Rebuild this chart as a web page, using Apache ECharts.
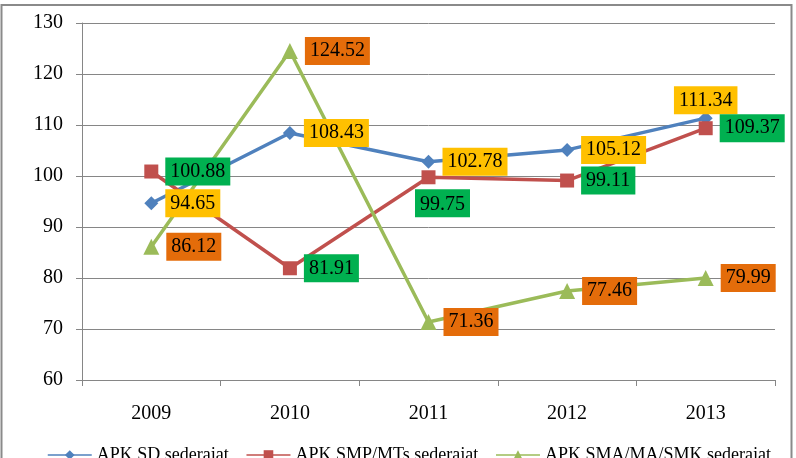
<!DOCTYPE html>
<html>
<head>
<meta charset="utf-8">
<script src="https://cdn.jsdelivr.net/npm/echarts@6/dist/echarts.min.js"></script>
<style>
  html, body { margin: 0; padding: 0; background: #fff; }
  #chart { width: 796px; height: 458px; }
</style>
</head>
<body>
<div id="chart"></div>
<script>
const years = ['2009', '2010', '2011', '2012', '2013'];
const apkSD = [94.65, 108.43, 102.78, 105.12, 111.34];
const apkSMP = [100.88, 81.91, 99.75, 99.11, 109.37];
const apkSMA = [86.12, 124.52, 71.36, 77.46, 79.99];
const seriesNames = ['APK SD sederajat', 'APK SMP/MTs sederajat', 'APK SMA/MA/SMK sederajat'];

const font = 'Liberation Serif';
const colors = ['#4f81bd', '#c0504d', '#9bbb59'];
const labelBg = ['#ffc000', '#00b050', '#e46c0a'];

// most labels sit on the right, a few are moved
function pts(values, special) {
  return values.map(function (v, i) {
    const item = { value: v };
    if (special && special[i]) item.label = special[i];
    return item;
  });
}

function makeSeries(name, values, idx, symbol, size, special) {
  return {
    name: name,
    type: 'line',
    data: pts(values, special),
    symbol: symbol,
    symbolSize: size,
    lineStyle: { width: 3.5, color: colors[idx] },
    itemStyle: { color: colors[idx] },
    label: {
      show: true,
      position: 'right',
      distance: 7,
      fontFamily: font,
      fontSize: 20,
      color: '#000',
      backgroundColor: labelBg[idx],
      padding: [5, 5, 3, 5]
    }
  };
}

const chart = echarts.init(document.getElementById('chart'));
chart.setOption({
  animation: false,
  backgroundColor: '#fff',
  graphic: [{
    type: 'rect',
    shape: { x: 1.5, y: 5, width: 790, height: 470 },
    style: { fill: 'none', stroke: '#8a8a8a', lineWidth: 2 },
    z: 100
  }],
  grid: { left: 82, right: 21, top: 23, bottom: 78 },
  legend: {
    data: seriesNames,
    top: 446,
    left: 47,
    width: 749,
    padding: 0,
    itemWidth: 44,
    itemHeight: 12,
    itemGap: 17,
    lineStyle: { width: 1.5 },
    textStyle: { fontFamily: font, fontSize: 18, color: '#000' }
  },
  xAxis: {
    type: 'category',
    data: years,
    boundaryGap: true,
    axisLine: { lineStyle: { color: '#868686', width: 1 } },
    axisTick: { show: true, length: 6, lineStyle: { color: '#868686' } },
    axisLabel: { fontFamily: font, fontSize: 20, color: '#000', margin: 24 }
  },
  yAxis: {
    type: 'value',
    min: 60,
    max: 130,
    interval: 10,
    axisLine: { show: true, lineStyle: { color: '#868686', width: 1 } },
    axisTick: { show: true, length: 6, lineStyle: { color: '#868686' } },
    axisLabel: { fontFamily: font, fontSize: 20, color: '#000', margin: 19 },
    splitLine: { lineStyle: { color: '#868686', width: 1 } }
  },
  series: [
    makeSeries(seriesNames[0], apkSD, 0, 'diamond', 14, {
      4: { position: 'top', distance: -3 }
    }),
    makeSeries(seriesNames[1], apkSMP, 1, 'rect', 14, {
      2: { position: 'bottom', distance: 5, offset: [14, 0] }
    }),
    makeSeries(seriesNames[2], apkSMA, 2, 'triangle', 16)
  ]
});
</script>
</body>
</html>
